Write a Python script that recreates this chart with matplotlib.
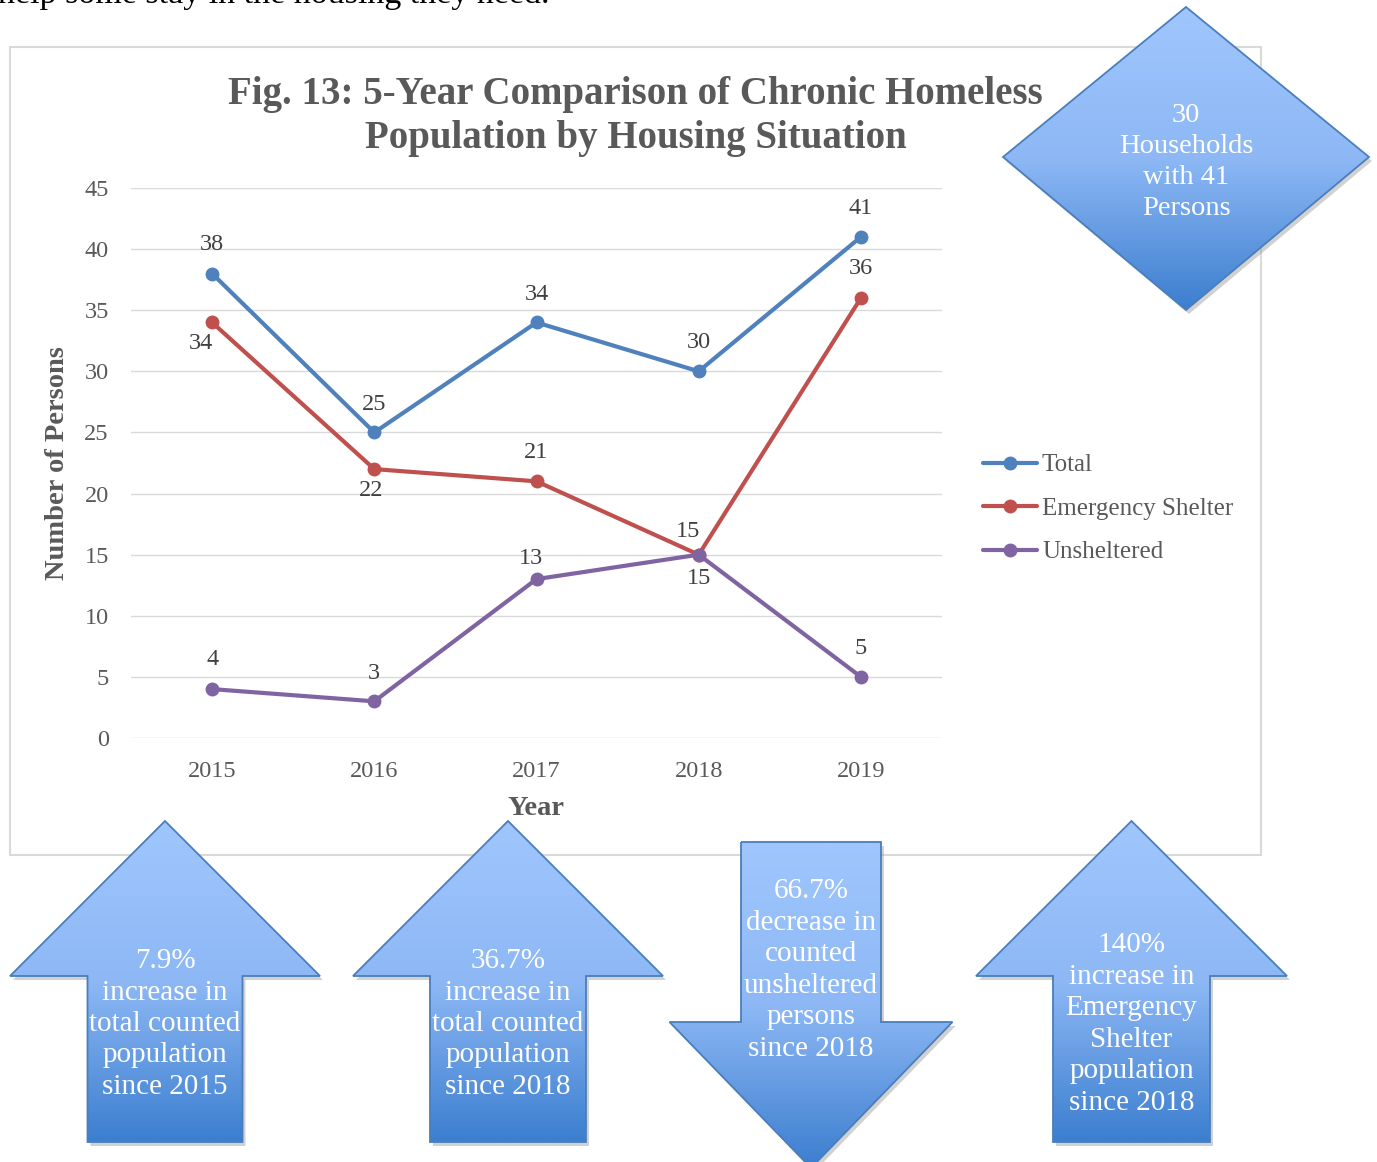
import numpy as np
import matplotlib
matplotlib.use("Agg")
import matplotlib.pyplot as plt
from matplotlib.patches import Polygon, Rectangle
from matplotlib.colors import LinearSegmentedColormap

# data
years = [2015, 2016, 2017, 2018, 2019]
total = [38, 25, 34, 30, 41]
emergency = [34, 22, 21, 15, 36]
unsheltered = [4, 3, 13, 15, 5]
series_names = ['Total', 'Emergency Shelter', 'Unsheltered']

# label placement per point: (dx, dy) in px from the marker
total_off = [(0, 29), (0, 28), (0, 28), (0, 29), (0, 28)]
emergency_off = [(-11, -21), (-3, -21), (0, 29), (0, -24), (0, 29)]
unsheltered_off = [(0, 30), (0, 28), (-6, 21), (-11, 23), (0, 28)]

callouts = [
    "7.9%\nincrease in\ntotal counted\npopulation\nsince 2015",
    "36.7%\nincrease in\ntotal counted\npopulation\nsince 2018",
    "66.7%\ndecrease in\ncounted\nunsheltered\npersons\nsince 2018",
    "140%\nincrease in\nEmergency\nShelter\npopulation\nsince 2018",
]
diamond_text = "30\nHouseholds\nwith 41\nPersons"

W, H = 1377, 1162
SERIF = 'Liberation Serif'
GREY = '#595959'
colors = ['#4f81bd', '#c0504d', '#8064a2']

fig = plt.figure(figsize=(W / 100, H / 100), dpi=100)

# background layer: page text + chart frame (pixel coords)
bg = fig.add_axes([0, 0, 1, 1], zorder=0)
bg.set_xlim(0, W)
bg.set_ylim(H, 0)
bg.axis('off')
bg.text(-2, 3, "help some stay in the housing they need.", fontsize=24.5,
        family=SERIF, color='black', va='baseline', ha='left')
bg.add_patch(Rectangle((10, 47), 1251, 808, fill=False, edgecolor='#d9d9d9', lw=1.5))

# chart
ax = fig.add_axes([131 / W, 1 - 738 / H, (942 - 131) / W, (738 - 188) / H], zorder=1)
ax.set_facecolor('none')
for vals, name, c in zip([total, emergency, unsheltered], series_names, colors):
    ax.plot(years, vals, color=c, lw=3, marker='o', ms=9, label=name,
            solid_capstyle='round', zorder=3)

px = 72 / 100
def put_labels(vals, offs):
    for x, v, (dx, dy) in zip(years, vals, offs):
        ax.annotate(str(v), (x, v), xytext=(dx * px, dy * px), textcoords='offset points',
                    ha='center', va='center', fontsize=17.5, family=SERIF, color='#404040')

put_labels(total, total_off)
put_labels(emergency, emergency_off)
put_labels(unsheltered, unsheltered_off)

ax.set_xlim(2014.5, 2019.5)
ax.set_ylim(0, 45)
ax.set_xticks(years)
ax.set_yticks(range(0, 46, 5))
ax.tick_params(length=0, labelsize=17.5, labelcolor=GREY)
ax.tick_params(axis='y', pad=16)
ax.tick_params(axis='x', pad=16.5)
for lab in ax.get_xticklabels() + ax.get_yticklabels():
    lab.set_family(SERIF)
ax.grid(axis='y', color='#d9d9d9', lw=1)
ax.set_axisbelow(True)
for s in ax.spines.values():
    s.set_visible(False)
ax.set_xlabel('Year', fontsize=20.5, fontweight='bold', family=SERIF, color=GREY, labelpad=10)
ax.set_ylabel('Number of Persons', fontsize=20.5, fontweight='bold', family=SERIF, color=GREY, labelpad=10)

fig.text(635.5 / W, 1 - 116.5 / H, "Fig. 13: 5-Year Comparison of Chronic Homeless\nPopulation by Housing Situation",
         ha='center', va='center', fontsize=28, fontweight='bold', family=SERIF, color=GREY,
         linespacing=1.25)

leg = ax.legend(loc='upper left', bbox_to_anchor=(983 / W, 1 - 454 / H),
                bbox_transform=fig.transFigure, frameon=False, borderpad=0,
                borderaxespad=0, handlelength=2.16, handletextpad=0.2,
                labelspacing=0.84, prop={'family': SERIF, 'size': 18})
for t in leg.get_texts():
    t.set_color(GREY)

# overlay layer: gradient callout shapes
ov = fig.add_axes([0, 0, 1, 1], zorder=5)
ov.set_xlim(0, W)
ov.set_ylim(H, 0)
ov.axis('off')
ov.patch.set_alpha(0)

grad = LinearSegmentedColormap.from_list('g', ['#a0c6fd', '#8db8f5', '#3c7ecf'])

def shape(verts, text, ty, fs=21, ls=1.27):
    verts = np.array(verts, dtype=float)
    shadow = Polygon(verts + [3, 4], closed=True, facecolor='#9a9a9a', edgecolor='none',
                     alpha=0.45, zorder=1)
    ov.add_patch(shadow)
    poly = Polygon(verts, closed=True, facecolor='none', edgecolor='#4a7ebb', lw=1.3, zorder=3)
    ov.add_patch(poly)
    x0, x1 = verts[:, 0].min(), verts[:, 0].max()
    y0, y1 = verts[:, 1].min(), verts[:, 1].max()
    g = np.linspace(0, 1, 256).reshape(-1, 1)
    im = ov.imshow(g, cmap=grad, extent=(x0, x1, y1, y0), origin='upper',
                   aspect='auto', zorder=2, interpolation='bilinear')
    im.set_clip_path(poly)
    cx = (x0 + x1) / 2
    ov.text(cx, ty, text, ha='center', va='center', color='white', fontsize=fs,
            family=SERIF, linespacing=ls, zorder=4)

def up_arrow(cx, tip, head_y, head_half, shaft_half, bottom):
    return [(cx, tip), (cx + head_half, head_y), (cx + shaft_half, head_y),
            (cx + shaft_half, bottom), (cx - shaft_half, bottom),
            (cx - shaft_half, head_y), (cx - head_half, head_y)]

def down_arrow(cx, top, head_y, head_half, shaft_half, tip):
    return [(cx - shaft_half, top), (cx + shaft_half, top), (cx + shaft_half, head_y),
            (cx + head_half, head_y), (cx, tip), (cx - head_half, head_y),
            (cx - shaft_half, head_y)]

shape([(1186, 7), (1369, 157), (1186, 310), (1003, 157)], diamond_text, 162, fs=20.5, ls=1.33)
shape(up_arrow(165, 821, 976, 155, 77.5, 1142), callouts[0], 1024)
shape(up_arrow(508, 821, 976, 155, 78, 1142), callouts[1], 1024)
shape(down_arrow(811, 842, 1022, 141.5, 70, 1168), callouts[2], 970)
shape(up_arrow(1131.5, 821, 976, 155.5, 78.5, 1142), callouts[3], 1024)

fig.savefig('out.png', dpi=100)
